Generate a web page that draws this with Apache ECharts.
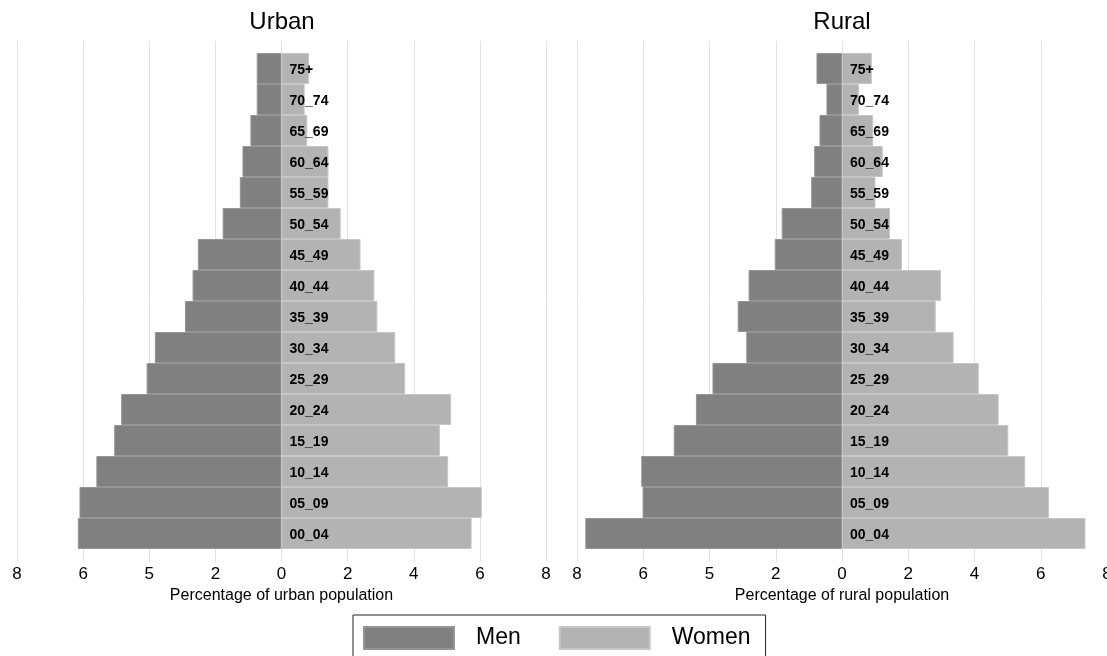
<!DOCTYPE html>
<html>
<head>
<meta charset="utf-8">
<script src="https://cdn.jsdelivr.net/npm/echarts@6/dist/echarts.min.js"></script>
<style>
html,body{margin:0;padding:0;background:#fff;}
#chart{width:1107px;height:656px;}
</style>
</head>
<body>
<div id="chart"></div>
<script>
var ages = ['00_04','05_09','10_14','15_19','20_24','25_29','30_34','35_39','40_44','45_49','50_54','55_59','60_64','65_69','70_74','75+'];
var urbanMen   = [6.16, 6.11, 5.60, 5.06, 4.85, 4.08, 3.83, 2.92, 2.69, 2.53, 1.78, 1.26, 1.18, 0.94, 0.75, 0.75];
var urbanWomen = [5.75, 6.06, 5.04, 4.79, 5.13, 3.74, 3.44, 2.90, 2.81, 2.39, 1.79, 1.42, 1.42, 0.78, 0.70, 0.83];
var ruralMen   = [7.75, 6.02, 6.06, 5.08, 4.41, 3.91, 2.89, 3.15, 2.82, 2.03, 1.82, 0.93, 0.84, 0.68, 0.47, 0.77];
var ruralWomen = [7.35, 6.25, 5.53, 5.02, 4.73, 4.13, 3.37, 2.83, 2.99, 1.81, 1.45, 1.01, 1.23, 0.94, 0.51, 0.90];
var tickLabels = ['8','6','5','2','0','2','4','6','8'];
var panelTitles = ['Urban','Rural'];
var axisNames = ['Percentage of urban population','Percentage of rural population'];
var seriesNames = ['Men','Women'];

var FONT = '"Liberation Sans", Arial, Helvetica, sans-serif';
var chart = echarts.init(document.getElementById('chart'));

var panels = [{left:17, width:529, center:282}, {left:577, width:530, center:842}];
var grids = [], xAxes = [], yAxes = [], series = [], titles = [];
panels.forEach(function(p, i){
  grids.push({left:p.left, width:p.width, top:41, height:521, containLabel:false, outerBoundsMode:'none'});
  grids.push({left:p.left, width:p.width, top:53, height:496, containLabel:false, outerBoundsMode:'none'});
  var gA = i*2, gB = i*2+1;
  xAxes.push({
    gridIndex:gA, type:'value', min:-8, max:8, interval:2,
    axisLine:{show:false}, axisTick:{show:false},
    splitLine:{show:true, lineStyle:{color:'#e2e2e2', width:1}},
    axisLabel:{margin:4, color:'#000', fontSize:17, fontFamily:FONT,
      formatter:function(v){ return tickLabels[Math.round((v+8)/2)]; }},
    name:axisNames[i], nameLocation:'middle', nameGap:25,
    nameTextStyle:{color:'#000', fontSize:16, fontFamily:FONT}
  });
  yAxes.push({gridIndex:gA, type:'category', data:ages, show:false});
  xAxes.push({gridIndex:gB, type:'value', min:-8, max:8, interval:2, show:false, splitLine:{show:false}});
  yAxes.push({gridIndex:gB, type:'category', data:ages, show:false, boundaryGap:true});
  var men = i === 0 ? urbanMen : ruralMen;
  var women = i === 0 ? urbanWomen : ruralWomen;
  series.push({
    name:seriesNames[0], type:'bar', xAxisIndex:gB, yAxisIndex:gB,
    data:men.map(function(v){return -v;}),
    barCategoryGap:0, barGap:'-100%',
    itemStyle:{color:'#808080', borderColor:'#959595', borderWidth:1},
    silent:true
  });
  series.push({
    name:seriesNames[1], type:'bar', xAxisIndex:gB, yAxisIndex:gB,
    data:women,
    barCategoryGap:0, barGap:'-100%',
    itemStyle:{color:'#b3b3b3', borderColor:'#c6c6c6', borderWidth:1},
    label:{show:true, position:'insideLeft', distance:8, offset:[0,2], formatter:'{b}',
      color:'#000', fontSize:14, fontWeight:'bold', fontFamily:FONT},
    silent:true
  });
  titles.push({text:panelTitles[i], left:p.center, top:10, textAlign:'center', padding:0,
    textStyle:{color:'#000', fontSize:24, fontWeight:'normal', fontFamily:FONT}});
});

chart.setOption({
  animation:false,
  backgroundColor:'#fff',
  title:titles,
  grid:grids,
  xAxis:xAxes,
  yAxis:yAxes,
  legend:{
    data:seriesNames, left:353, top:615, orient:'horizontal',
    padding:[11,15,11,10], borderColor:'#222', borderWidth:1,
    itemWidth:90, itemHeight:22, itemGap:38, icon:'rect', selectedMode:false,
    textStyle:{color:'#000', fontSize:23, fontFamily:FONT, padding:[0,0,0,17]}
  },
  series:series
});
</script>
</body>
</html>
